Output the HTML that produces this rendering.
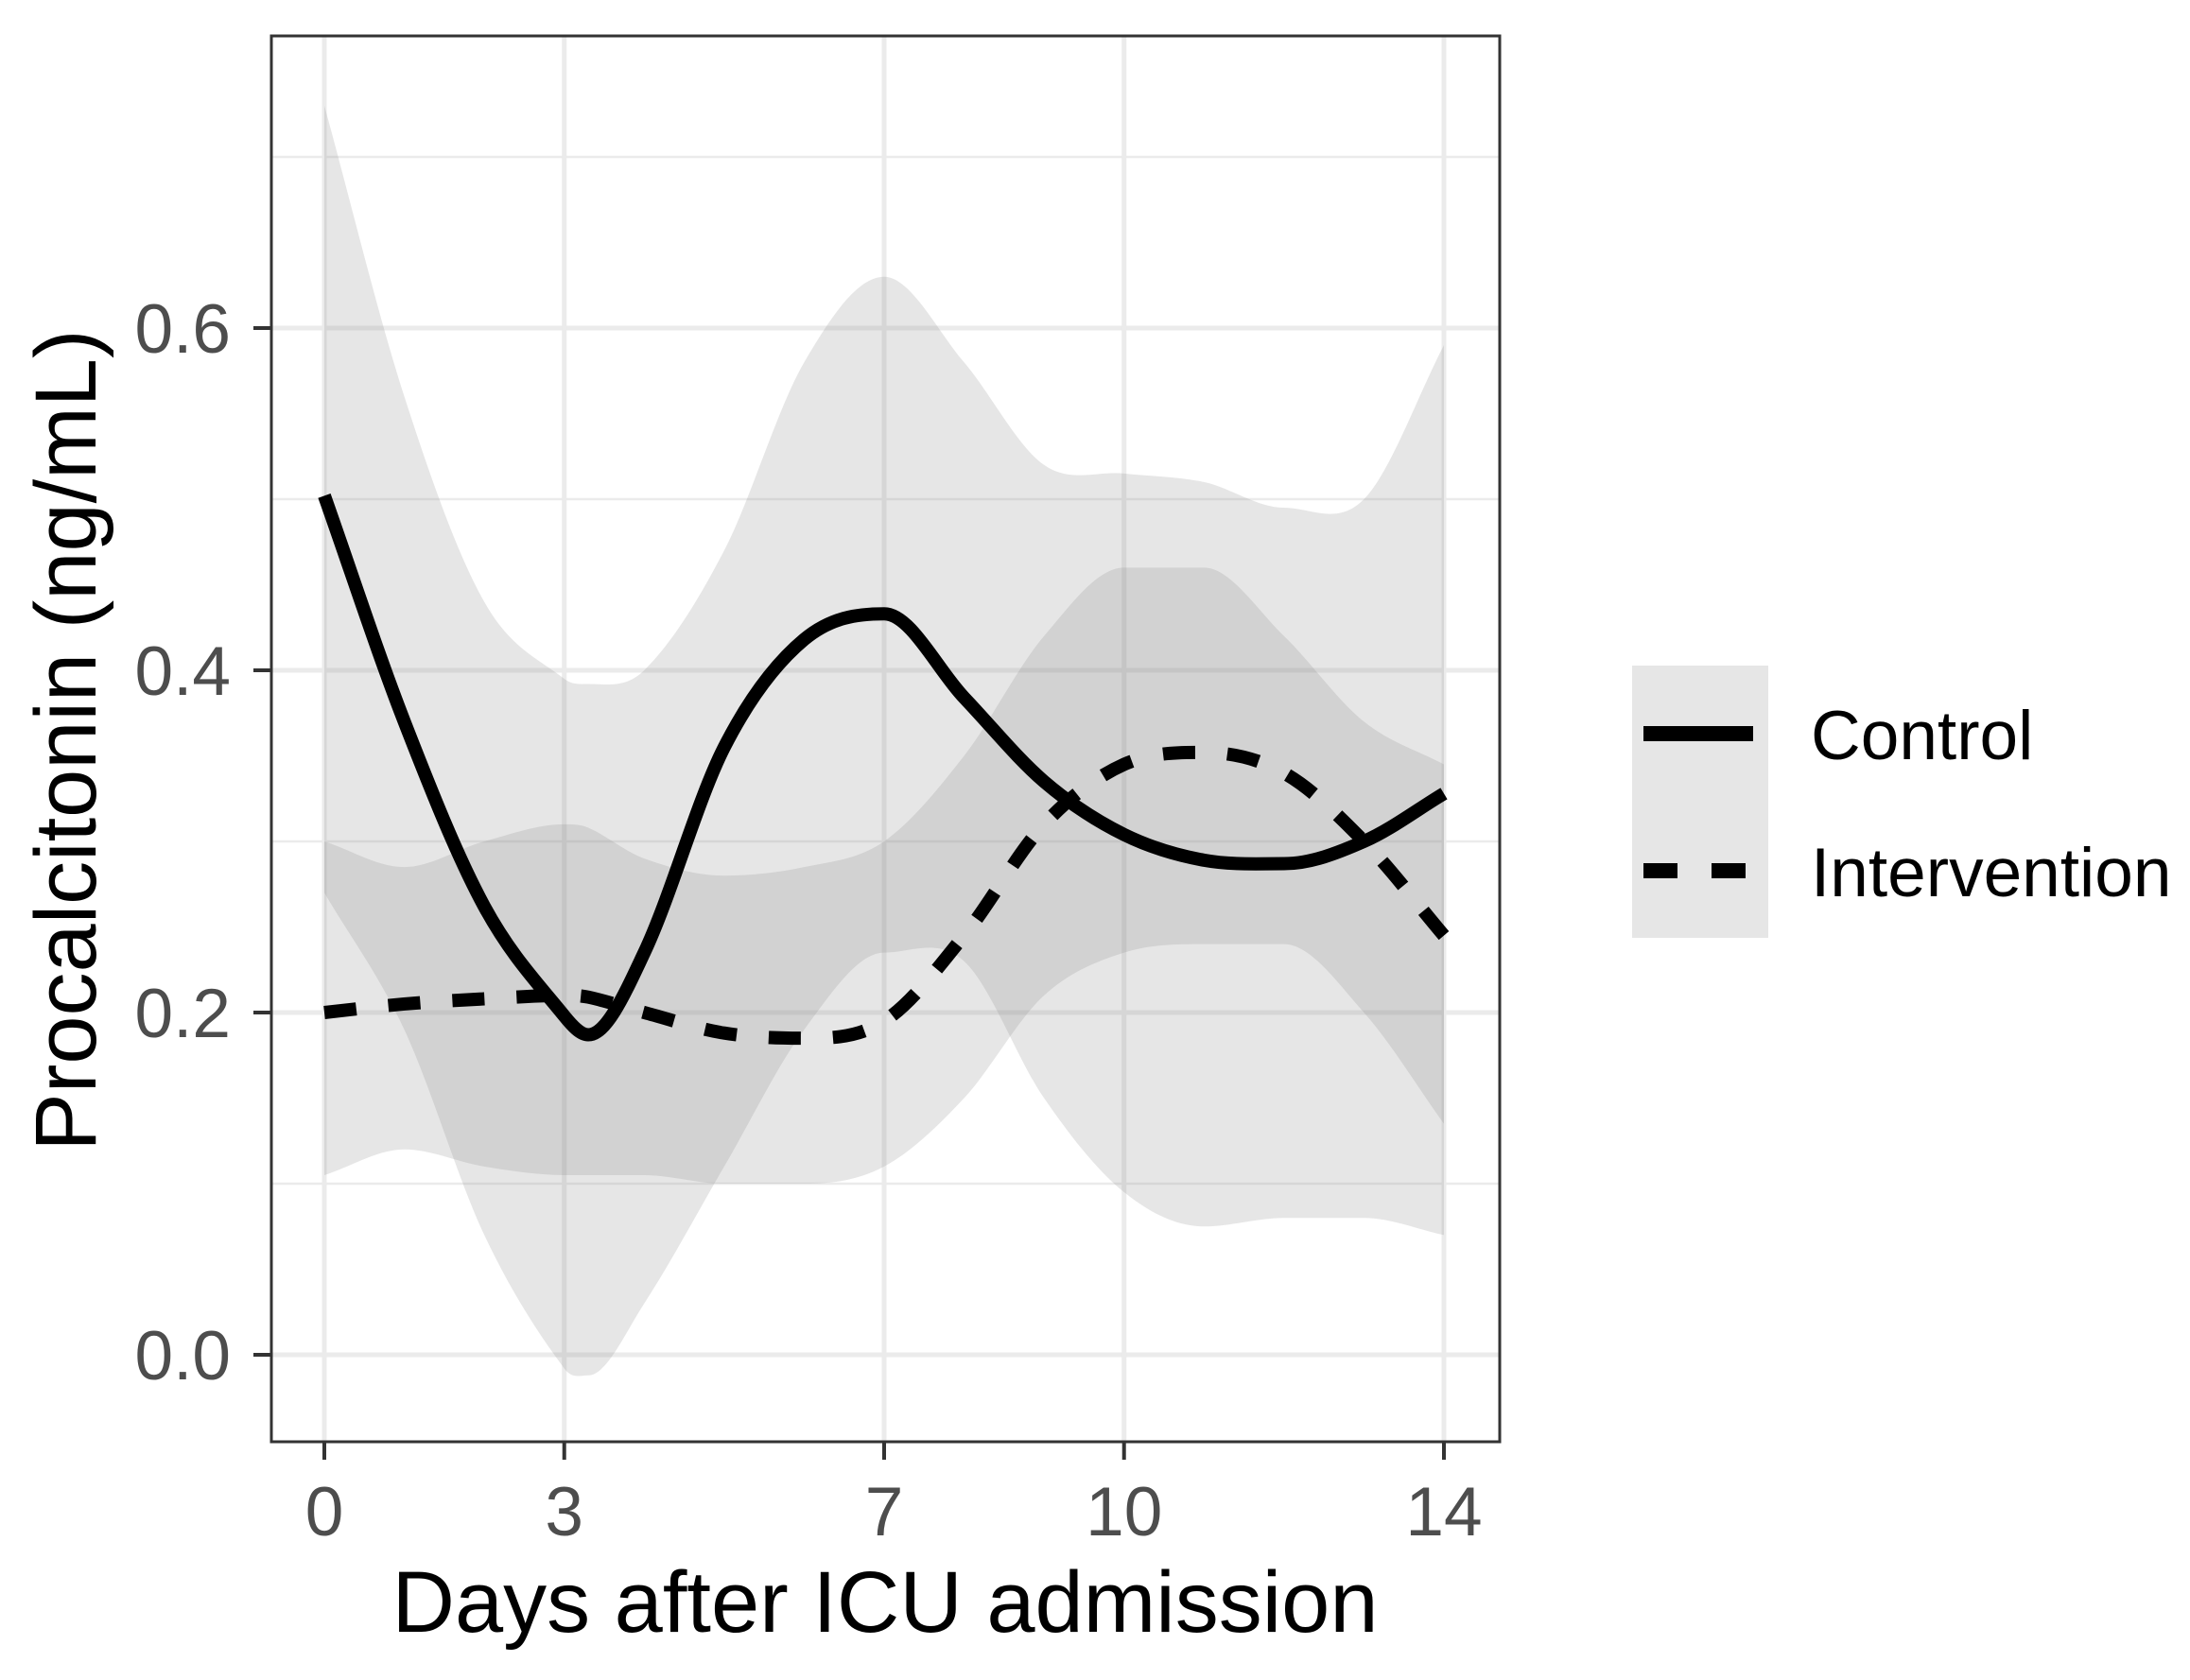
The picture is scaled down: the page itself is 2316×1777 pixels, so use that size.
<!DOCTYPE html>
<html><head><meta charset="utf-8"><style>
html,body{margin:0;padding:0;background:#fff;}
svg{display:block;font-family:"Liberation Sans",Arial,sans-serif;}
</style></head><body>
<svg id="chart" width="2316" height="1777" viewBox="0 0 2316 1777" xmlns="http://www.w3.org/2000/svg">
<rect x="287" y="38" width="1299" height="1487" fill="#fff"/>
<g id="grid"></g>
<g id="bands"></g>
<g id="lines"></g>
<rect x="287" y="38" width="1299" height="1487" fill="none" stroke="#333" stroke-width="3"/>
<g id="axes"></g>
<text x="936" y="1726" font-size="92" text-anchor="middle" fill="#000">Days after ICU admission</text>
<text transform="translate(101,783) rotate(-90)" font-size="92" text-anchor="middle" fill="#000">Procalcitonin (ng/mL)</text>
<g>
<rect x="1726" y="704" width="144" height="288" fill="#e6e6e6"/>
<line x1="1738" y1="776" x2="1854" y2="776" stroke="#000" stroke-width="16"/>
<line x1="1738" y1="921" x2="1854" y2="921" stroke="#000" stroke-width="16" stroke-dasharray="36 36"/>
<text x="1915" y="803" font-size="73" fill="#000">Control</text>
<text x="1915" y="948" font-size="73" fill="#000">Intervention</text>
</g>
</svg>
<script>
const days = [0,1,2,3,3.3,4,5,6,7,8,9,10,11,12,13,14];
const controlValues = [0.502,0.37,0.262,0.198,0.187,0.235,0.355,0.418,0.433,0.384,0.335,0.304,0.289,0.287,0.3,0.328];
const interventionValues = [0.2,0.205,0.208,0.21,0.209,0.2,0.188,0.185,0.195,0.245,0.31,0.345,0.352,0.34,0.3,0.245];
const controlUpper = [0.73,0.56,0.44,0.395,0.392,0.4,0.47,0.58,0.63,0.58,0.52,0.515,0.51,0.495,0.5,0.59];
const controlLower = [0.27,0.19,0.07,-0.008,-0.012,0.03,0.11,0.19,0.235,0.23,0.15,0.095,0.075,0.08,0.08,0.07];
const interventionUpper = [0.3,0.285,0.3,0.31,0.308,0.29,0.28,0.285,0.3,0.35,0.42,0.46,0.46,0.42,0.37,0.345];
const interventionLower = [0.105,0.12,0.11,0.105,0.105,0.105,0.1,0.1,0.11,0.15,0.21,0.235,0.24,0.24,0.2,0.135];
const xTicks = [0,3,7,10,14];
const yTicks = [0,0.2,0.4,0.6];
const yTickLabels = ["0.0","0.2","0.4","0.6"];
const yMinor = [0.1,0.3,0.5,0.7];

const NS="http://www.w3.org/2000/svg";
const X = d => 343 + (d-0)*(1527-343)/14;
const Y = v => 1433 - v*(1433-347)/0.6;
function mk(tag, attrs, parent){const e=document.createElementNS(NS,tag);for(const k in attrs)e.setAttribute(k,attrs[k]);parent.appendChild(e);return e;}
function smooth(pts){
  const n=pts.length, m=[];
  for(let i=0;i<n;i++){
    if(i===0){m.push((pts[1][1]-pts[0][1])/(pts[1][0]-pts[0][0]));continue;}
    if(i===n-1){m.push((pts[i][1]-pts[i-1][1])/(pts[i][0]-pts[i-1][0]));continue;}
    const a=(pts[i][1]-pts[i-1][1])/(pts[i][0]-pts[i-1][0]), b=(pts[i+1][1]-pts[i][1])/(pts[i+1][0]-pts[i][0]);
    m.push(a*b<=0?0:(pts[i+1][1]-pts[i-1][1])/(pts[i+1][0]-pts[i-1][0]));
  }
  let d="M"+pts[0][0]+","+pts[0][1];
  for(let i=0;i<n-1;i++){
    const p1=pts[i],p2=pts[i+1],h=p2[0]-p1[0];
    d+=" C"+(p1[0]+h/3)+","+(p1[1]+m[i]*h/3)+" "+(p2[0]-h/3)+","+(p2[1]-m[i+1]*h/3)+" "+p2[0]+","+p2[1];
  }
  return d;
}
const grid=document.getElementById('grid');
yMinor.forEach(v=>{const l=mk('line',{x1:287,x2:1586,y1:Y(v),y2:Y(v),stroke:'#ebebeb','stroke-width':2.5},grid);

});
yTicks.forEach(v=>{const l=mk('line',{x1:287,x2:1586,y1:Y(v),y2:Y(v),stroke:'#ebebeb','stroke-width':5},grid);

});
xTicks.forEach(d=>{const l=mk('line',{x1:X(d),x2:X(d),y1:38,y2:1525,stroke:'#ebebeb','stroke-width':5},grid);

});

const bands=document.getElementById('bands');
function band(up,lo,name){
  const upPts=days.map((d,i)=>[X(d),Y(up[i])]);
  const loPts=days.map((d,i)=>[X(d),Y(lo[i])]).reverse();
  const p=smooth(upPts)+" L"+smooth(loPts).slice(1)+" Z";
  const e=mk('path',{d:p,fill:'#808080','fill-opacity':0.2},bands);
  
  
}
band(controlUpper,controlLower,'control-ci-band');
band(interventionUpper,interventionLower,'intervention-ci-band');

const lines=document.getElementById('lines');
const cl=mk('path',{d:smooth(days.map((d,i)=>[X(d),Y(controlValues[i])])),fill:'none',stroke:'#000','stroke-width':14},lines);


const il=mk('path',{d:smooth(days.map((d,i)=>[X(d),Y(interventionValues[i])])),fill:'none',stroke:'#000','stroke-width':14,'stroke-dasharray':'34 34'},lines);



const axes=document.getElementById('axes');
yTicks.forEach((v,i)=>{
  const t=mk('line',{x1:268,x2:287,y1:Y(v),y2:Y(v),stroke:'#333','stroke-width':4},axes);
  
  
  const tx=mk('text',{x:244,y:Y(v)+26,'font-size':73,'text-anchor':'end',fill:'#4d4d4d'},axes);
  tx.textContent=yTickLabels[i];
  
  
});
xTicks.forEach(d=>{
  const t=mk('line',{x1:X(d),x2:X(d),y1:1525,y2:1544,stroke:'#333','stroke-width':4},axes);
  
  
  const tx=mk('text',{x:X(d),y:1624,'font-size':73,'text-anchor':'middle',fill:'#4d4d4d'},axes);
  tx.textContent=String(d);
  
  
});
</script>
</body></html>
